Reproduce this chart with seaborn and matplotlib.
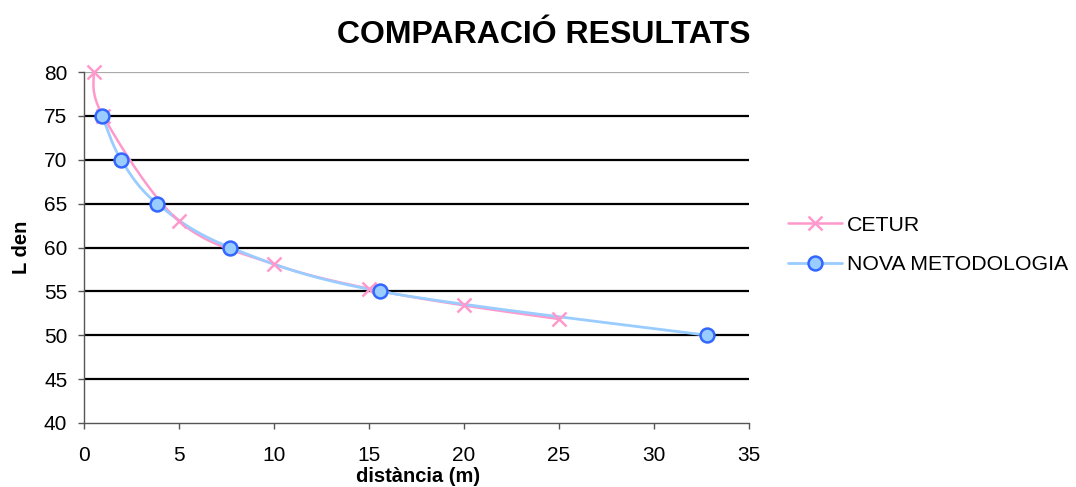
import numpy as np
import pandas as pd
import matplotlib
matplotlib.use("Agg")
import matplotlib.pyplot as plt
from matplotlib.lines import Line2D
import seaborn as sns

# Series data: distance (m) vs L den
cetur_dist = [0.5, 1.0, 5.0, 10.0, 15.0, 20.0, 25.0]
cetur_lden = [80.0, 75.0, 63.0, 58.1, 55.3, 53.4, 51.85]
nova_dist = [0.95, 1.95, 3.85, 7.7, 15.6, 32.8]
nova_lden = [75.0, 70.0, 65.0, 60.0, 55.0, 50.0]

x_ticks = [0, 5, 10, 15, 20, 25, 30, 35]
y_ticks = [40, 45, 50, 55, 60, 65, 70, 75, 80]

PINK = "#FF99CC"
LIGHT_BLUE = "#99CCFF"
EDGE_BLUE = "#3366FF"


def smooth(xs, ys, sx=19.0, sy=8.775, n=40):
    """Cardinal (Catmull-Rom style) Bezier smoothing computed in screen-like units."""
    p = np.column_stack([np.asarray(xs) * sx, np.asarray(ys) * sy])
    out = [p[0]]
    for i in range(len(p) - 1):
        p0 = p[i - 1] if i > 0 else p[i]
        p1, p2 = p[i], p[i + 1]
        p3 = p[i + 2] if i + 2 < len(p) else p[i + 1]
        c1 = p1 + (p2 - p0) / 6.0
        c2 = p2 - (p3 - p1) / 6.0
        t = np.linspace(0, 1, n)[1:, None]
        seg = ((1 - t) ** 3) * p1 + 3 * ((1 - t) ** 2) * t * c1 + 3 * (1 - t) * t ** 2 * c2 + t ** 3 * p2
        out.extend(seg)
    out = np.array(out)
    return pd.DataFrame({"x": out[:, 0] / sx, "y": out[:, 1] / sy, "order": np.arange(len(out))})


sns.set_theme(style="white")
plt.rcParams["font.family"] = ["Liberation Sans", "DejaVu Sans"]
plt.rcParams.update({
    "text.color": "black",
    "axes.labelcolor": "black",
    "xtick.labelcolor": "black",
    "ytick.labelcolor": "black",
})

W, H = 1076, 487
fig = plt.figure(figsize=(W / 100, H / 100), dpi=100)
ax = fig.add_axes([84 / W, 64 / H, 665 / W, 351 / H])

# Horizontal gridlines
for yv in y_ticks[1:-1]:
    ax.axhline(yv, color="black", lw=1.6, zorder=1)
ax.axhline(y_ticks[-1], color="#AAAAAA", lw=0.9, zorder=1)

cetur_curve = smooth(cetur_dist, cetur_lden)
nova_curve = smooth(nova_dist, nova_lden)

sns.lineplot(data=cetur_curve, x="x", y="y", sort=False, estimator=None,
             color=PINK, lw=1.8, ax=ax, zorder=3)
sns.lineplot(data=nova_curve, x="x", y="y", sort=False, estimator=None,
             color=LIGHT_BLUE, lw=2.0, ax=ax, zorder=4)

ax.plot(cetur_dist, cetur_lden, ls="none", marker="x", ms=10, mew=1.8,
        color=PINK, zorder=5, clip_on=False)
ax.plot(nova_dist, nova_lden, ls="none", marker="o", ms=10, mew=1.8,
        mfc=LIGHT_BLUE, mec=EDGE_BLUE, zorder=6, clip_on=False)

ax.set_xlim(0, 35)
ax.set_ylim(40, 80)
ax.set_xticks(x_ticks)
ax.set_yticks(y_ticks)
ax.tick_params(axis="both", which="major", direction="out", length=4.5, width=1,
               color="#555555", labelsize=15, bottom=True, left=True)
ax.tick_params(axis="x", pad=12)
ax.tick_params(axis="y", pad=7.5)

for side in ("top", "right"):
    ax.spines[side].set_visible(False)
for side in ("left", "bottom"):
    ax.spines[side].set_color("#555555")
    ax.spines[side].set_linewidth(1.0)

ax.set_xlabel("distància (m)", fontsize=14.5, fontweight="bold")
ax.set_ylabel("L den", fontsize=14.5, fontweight="bold")
ax.xaxis.set_label_coords((418 - 84) / 665, (423 - 467) / 351)
ax.yaxis.set_label_coords((31 - 84) / 665, 0.5)

fig.text(544 / W, 1 - 35 / H, "COMPARACIÓ RESULTATS", ha="center", va="center",
         fontsize=23, fontweight="bold")

handles = [
    Line2D([], [], color=PINK, lw=1.8, marker="x", ms=10, mew=1.8),
    Line2D([], [], color=LIGHT_BLUE, lw=2.0, marker="o", ms=10, mew=1.8,
           mfc=LIGHT_BLUE, mec=EDGE_BLUE),
]
fig.legend(handles, ["CETUR", "NOVA METODOLOGIA"], loc="center left",
           bbox_to_anchor=(788 / W, 1 - 245 / H), frameon=False,
           borderpad=0, borderaxespad=0,
           fontsize=15.3, handlelength=2.55, labelspacing=0.95, handletextpad=0.24)

fig.savefig("out.png", dpi=100)
